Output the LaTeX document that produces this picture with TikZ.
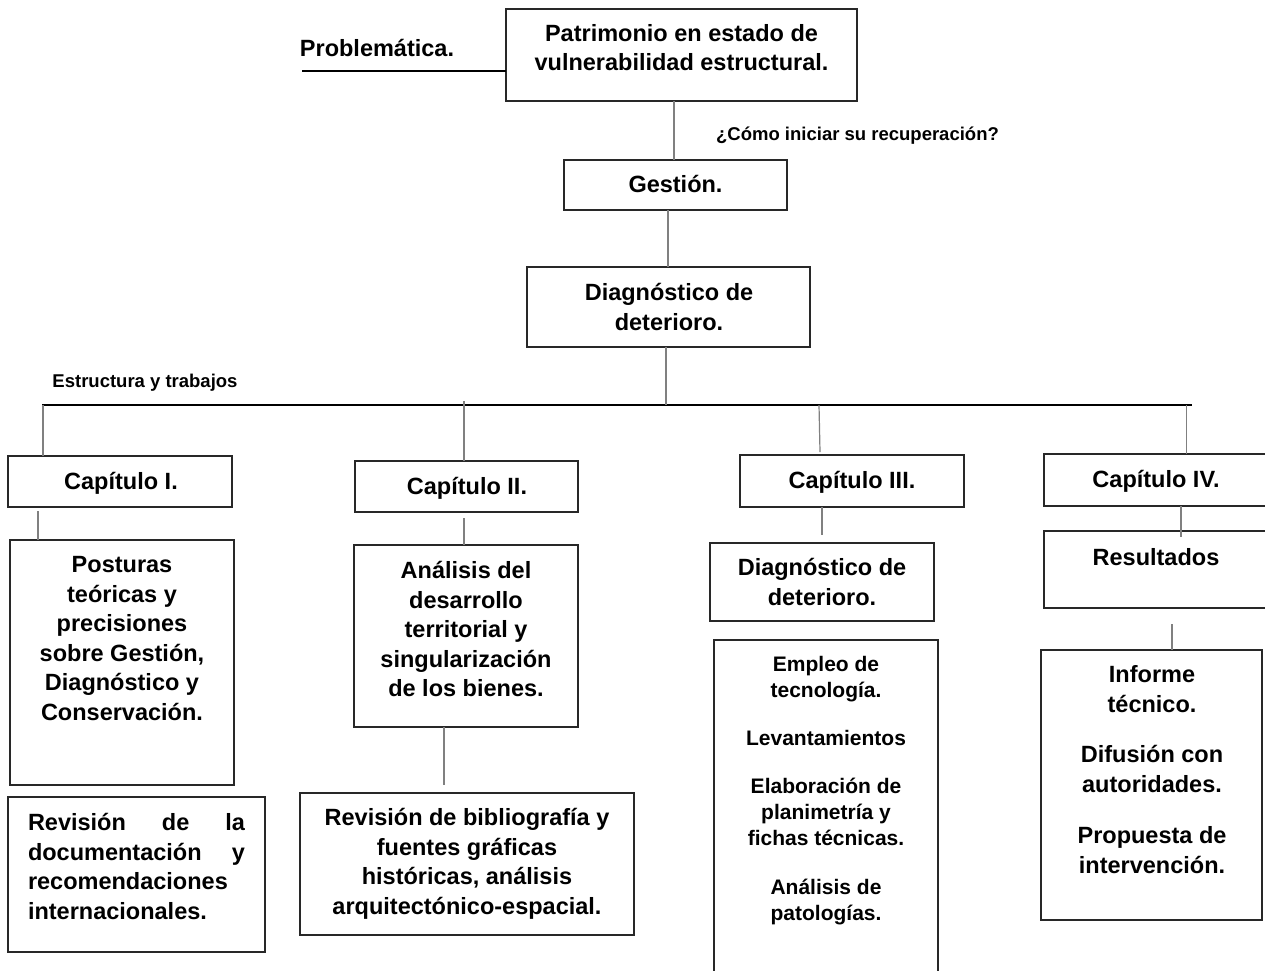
\documentclass[tikz,border=0pt]{standalone}
\usepackage{fontspec}
\setmainfont{Liberation Sans}
\usetikzlibrary{calc}
\definecolor{lgray}{RGB}{128,128,128}
\definecolor{boxc}{RGB}{40,40,40}
\begin{document}
\begin{tikzpicture}[x=1pt,y=-1pt,
  box/.style={draw=boxc, line width=1.4pt, inner sep=0pt, outer sep=0pt, rectangle},
  big/.style={font=\bfseries\fontsize{23.5}{29.5}\selectfont, align=center, inner sep=0pt},
  mid/.style={font=\bfseries\fontsize{21}{26}\selectfont, align=center, inner sep=0pt},
  small/.style={font=\bfseries\fontsize{18.5}{22}\selectfont, inner sep=0pt},
  conn/.style={draw=lgray, line width=1.2pt},
  bar/.style={draw=black, line width=1.3pt}]
\useasboundingbox (0,0) rectangle (1265,970);

% boxes
\node[box, minimum width=351, minimum height=92] (pat) at (681.5,55) {};
\node[box, minimum width=223, minimum height=50] (gest) at (675.5,185) {};
\node[box, minimum width=283, minimum height=80] (diag) at (668.5,307) {};
\node[box, minimum width=224, minimum height=51] (c1) at (120,481.5) {};
\node[box, minimum width=223, minimum height=51] (c2) at (466.5,486.5) {};
\node[box, minimum width=224, minimum height=52] (c3) at (852,481) {};
\node[box, minimum width=224, minimum height=52] (c4) at (1156,480) {};
\node[box, minimum width=224, minimum height=245] (post) at (122,662.5) {};
\node[box, minimum width=257, minimum height=155] (rev1) at (136.5,874.5) {};
\node[box, minimum width=224, minimum height=182] (anal) at (466,636) {};
\node[box, minimum width=334, minimum height=142] (rev2) at (467,864) {};
\node[box, minimum width=224, minimum height=78] (d3) at (822,582) {};
\node[box, minimum width=224, minimum height=340] (emp) at (826,810) {};
\node[box, minimum width=224, minimum height=77] (res) at (1156,569.5) {};
\node[box, minimum width=221, minimum height=270] (inf) at (1151.5,785) {};

% texts
\node[big] (t-prob) at (377,48) {Problemática.};
\node[big] (t-pat) at (681.5,47.5) {Patrimonio en estado de\\vulnerabilidad estructural.};
\node[small] (t-como) at (857.5,136) {¿Cómo iniciar su recuperación?};
\node[big] (t-gest) at (675.5,184) {Gestión.};
\node[big] (t-diag) at (669,307) {Diagnóstico de\\deterioro.};
\node[small] (t-estr) at (145,383) {Estructura y trabajos};
\node[big] (t-c1) at (121,483) {Capítulo I.};
\node[big] (t-c2) at (467,488) {Capítulo II.};
\node[big] (t-c3) at (852,482) {Capítulo III.};
\node[big] (t-c4) at (1156,481) {Capítulo IV.};
\node[big] (t-post) at (122,638.5) {Posturas\\teóricas y\\precisiones\\sobre Gestión,\\Diagnóstico y\\Conservación.};
\node[big, align=left] (t-rev1) at (136.5,866.5) {\makebox[217pt][s]{Revisión de la}\\\makebox[217pt][s]{documentación y}\\recomendaciones\\internacionales.};
\node[big] (t-anal) at (466,629) {Análisis del\\desarrollo\\territorial y\\singularización\\de los bienes.};
\node[big] (t-rev2) at (467,864) {Revisión de bibliografía y\\fuentes gráficas\\históricas, análisis\\arquitectónico-espacial.};
\node[big] (t-d3) at (822,582) {Diagnóstico de\\deterioro.};
\node[mid] (t-emp) at (826,790.5) {Empleo de\\tecnología.\\[22pt]Levantamientos\\[22pt]Elaboración de\\planimetría y\\fichas técnicas.\\[23pt]Análisis de\\patologías.};
\node[big] (t-res) at (1156,557) {Resultados};
\node[big] (t-inf) at (1152,769.5) {Informe\\técnico.\\[21pt]Difusión con\\autoridades.\\[22pt]Propuesta de\\intervención.};

% bars
\coordinate (pl) at (302,71);
\draw[bar] (pl) -- (pl -| pat.west);
\coordinate (busL) at (42,405);
\coordinate (busR) at (1192,405);
\draw[bar] (busL) -- (busR);

% connector feet
\coordinate (kd) at ($(diag.south)+(-2.5,0)$);
\coordinate (k1) at ($(c1.north)+(-77,0)$);
\coordinate (k2) at ($(c2.north)+(-2.5,0)$);
\coordinate (k3) at ($(c3.north)+(-32,-3)$);
\coordinate (k4) at ($(c4.north)+(30.5,0)$);

% connectors
\draw[conn] ($(pat.south)+(-7.5,0)$) -- ($(gest.north)+(-1.5,0)$);
\draw[conn] ($(gest.south)+(-7.5,0)$) -- ($(diag.north)+(-0.5,0)$);
\draw[conn] (kd) -- (kd |- busL);
\draw[conn] (k1 |- busL) -- (k1);
\draw[conn] ($(k2 |- busL)+(0,-4)$) -- (k2);
\draw[conn] ($(k3 |- busL)+(-1,0)$) -- (k3);
\draw[conn] (k4 |- busL) -- (k4);
\draw[conn] ($(c1.south)+(-82,4)$) -- ($(post.north)+(-84,0)$);
\draw[conn] ($(c2.south)+(-2.5,6)$) -- ($(anal.north)+(-2,0)$);
\draw[conn] ($(anal.south)+(-22,0)$) -- ($(rev2.north)+(-23,-8)$);
\draw[conn] ($(c3.south)+(-30,0)$) -- ($(d3.north)+(0,-8)$);
\draw[conn] ($(c4.south)+(25,0)$) -- ($(res.north)+(25,6)$);
\draw[conn] ($(res.south)+(16,16)$) -- ($(inf.north)+(20.5,0)$);
\end{tikzpicture}
\end{document}
